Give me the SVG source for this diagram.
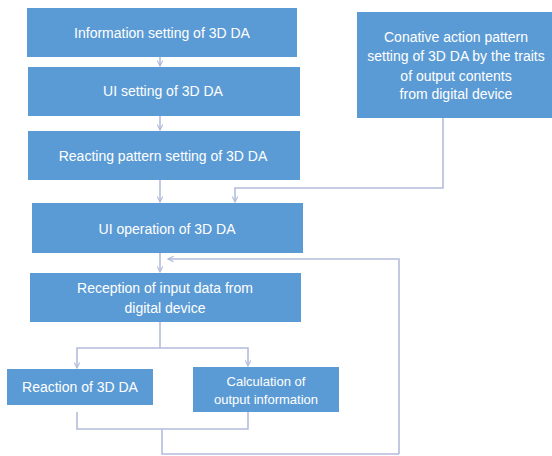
<svg xmlns="http://www.w3.org/2000/svg" width="552" height="456" viewBox="0 0 552 456">
  <style>
    .box { fill: #5b9bd5; }
    .lbl { fill: #ffffff; font-family: "Liberation Sans", Arial, sans-serif; font-size: 14px; text-anchor: middle; }
    .sm { font-size: 13px; }
    .con { fill: none; stroke: #b3bcdb; stroke-width: 1.6; }
  </style>
  <defs>
    <marker id="arr" viewBox="0 0 10 10" refX="9" refY="5" markerWidth="7" markerHeight="7" orient="auto" markerUnits="userSpaceOnUse">
      <polyline points="1,1 9,5 1,9" fill="none" stroke="#b3bcdb" stroke-width="1.6"/>
    </marker>
  </defs>
  <rect width="552" height="456" fill="#ffffff"/>

  <g id="connectors">
    <line class="con" x1="160" y1="57" x2="160" y2="66" marker-end="url(#arr)"/>
    <line class="con" x1="160" y1="116" x2="160" y2="130" marker-end="url(#arr)"/>
    <line class="con" x1="160" y1="180" x2="160" y2="202" marker-end="url(#arr)"/>
    <polyline class="con" points="443,118 443,188 235,188 235,202" marker-end="url(#arr)"/>
    <line class="con" x1="160" y1="253" x2="160" y2="272" marker-end="url(#arr)"/>
    <polyline class="con" points="399,454 399,259 168,259" marker-end="url(#arr)"/>
    <line class="con" x1="160" y1="322" x2="160" y2="348"/>
    <polyline class="con" points="160,348 77,348 77,368" marker-end="url(#arr)"/>
    <polyline class="con" points="160,348 248,348 248,366" marker-end="url(#arr)"/>
    <polyline class="con" points="77,412 77,429 248,429 248,412"/>
    <polyline class="con" points="162,429 162,454 399,454"/>
  </g>

  <g id="info-setting">
    <rect class="box" x="27" y="8" width="270" height="49"/>
    <text class="lbl" x="162" y="38">Information setting of 3D DA</text>
  </g>
  <g id="ui-setting">
    <rect class="box" x="28" y="67" width="272" height="49"/>
    <text class="lbl" x="163" y="96">UI setting of 3D DA</text>
  </g>
  <g id="reacting-pattern">
    <rect class="box" x="28" y="131" width="272" height="49"/>
    <text class="lbl" x="163" y="161">Reacting pattern setting of 3D DA</text>
  </g>
  <g id="conative-pattern">
    <rect class="box" x="357" y="12" width="195" height="106"/>
    <text class="lbl" x="456" y="42">Conative action pattern</text>
    <text class="lbl" x="456" y="61">setting of 3D DA by the traits</text>
    <text class="lbl" x="456" y="81">of output contents</text>
    <text class="lbl" x="456" y="99">from digital device</text>
  </g>
  <g id="ui-operation">
    <rect class="box" x="32" y="203" width="271" height="50"/>
    <text class="lbl" x="167" y="234">UI operation of 3D DA</text>
  </g>
  <g id="reception">
    <rect class="box" x="30" y="273" width="271" height="49"/>
    <text class="lbl" x="165" y="293">Reception of input data from</text>
    <text class="lbl" x="165" y="313">digital device</text>
  </g>
  <g id="reaction">
    <rect class="box" x="7" y="369" width="146" height="36"/>
    <text class="lbl" x="80" y="392">Reaction of 3D DA</text>
  </g>
  <g id="calculation">
    <rect class="box" x="193" y="367" width="146" height="45"/>
    <text class="lbl sm" x="266" y="386">Calculation of</text>
    <text class="lbl sm" x="266" y="404">output information</text>
  </g>
</svg>
